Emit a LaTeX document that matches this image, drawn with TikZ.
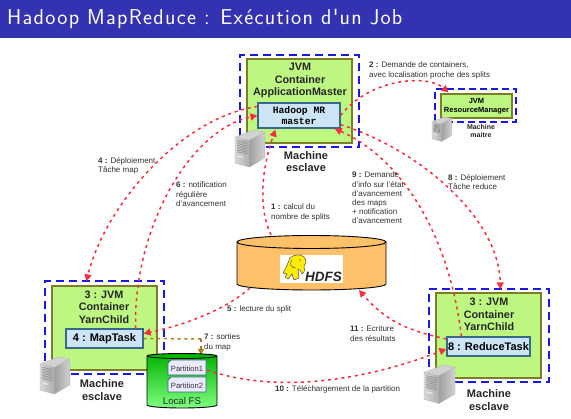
\documentclass[tikz,border=0pt]{standalone}
\usepackage{fontspec}
\setmainfont{Liberation Sans}
\setmonofont{Liberation Mono}
\newfontfamily\ttlfont[LetterSpace=6]{Latin Modern Sans}
\usetikzlibrary{arrows.meta,calc}
\definecolor{band}{RGB}{51,51,178}
\definecolor{frameb}{RGB}{25,25,225}
\definecolor{cgreen}{RGB}{190,246,130}
\definecolor{colive}{RGB}{125,125,35}
\definecolor{tblue}{RGB}{205,228,245}
\definecolor{tedge}{RGB}{55,105,140}
\definecolor{flow}{RGB}{245,45,65}
\definecolor{brownflow}{RGB}{170,125,30}
\definecolor{labelc}{RGB}{50,50,50}
\definecolor{hdfsc}{RGB}{255,192,106}
\newcommand{\fs}[2]{\fontsize{#1}{#2}\selectfont}
\newcommand{\srv}[3]{\begin{scope}[shift={(#1,#2)},scale=#3,line width=0.3pt,draw=gray!70]
 \fill[gray!35] (0,7)--(18,0)--(29,2)--(14,10)--cycle;
 \shade[left color=gray!75,right color=gray!35] (14,10)--(29,2)--(29,27)--(14,36)--cycle;
 \shade[left color=gray!30,right color=gray!65] (0,7)--(14,10)--(14,36)--(0,32)--cycle;
 \foreach \k in {0,1,2,3,4,5,6,7}{\draw[gray!85,line width=0.7pt] (2,10+\k*1.6)--(12,12+\k*1.6);}
 \fill[white!85!gray] (3,25)--(8,26)--(8,27)--(3,26)--cycle;
 \draw[gray!60] (0,7)--(18,0)--(29,2)--(29,27)--(14,36)--(0,32)--cycle (0,7)--(14,10)--(29,2) (14,10)--(14,36);
\end{scope}}
\tikzset{
 x=1pt,y=-1pt,
 frame/.style={draw=frameb,line width=1.3pt,dash pattern=on 8pt off 5pt,inner sep=0pt},
 gbox/.style={draw=colive,fill=cgreen,line width=1.2pt,inner sep=0pt},
 tbox/.style={draw=tedge,fill=tblue,line width=1.2pt,inner sep=0pt,font=\bfseries\fs{11}{12}},
 ctitle/.style={font=\bfseries\fs{10.8}{12.3},align=center,inner sep=0pt,text=black!85},
 mach/.style={font=\bfseries\fs{11}{12.2},align=center,inner sep=0pt,text=black!85},
 lab/.style={font=\fs{8}{9.2},align=left,anchor=north west,inner sep=0pt,text=labelc},
 flowline/.style={draw=flow,line width=1.5pt,dash pattern=on 3pt off 3.8pt,-{Triangle[length=7pt,width=7pt]}},
 brownline/.style={draw=brownflow,line width=1.5pt,dash pattern=on 3pt off 3.8pt},
 part/.style={draw=tedge,fill=blue!8,line width=0.8pt},
 partt/.style={font=\fs{7.6}{9},inner sep=0pt,text=black!80},
}
\begin{document}
\begin{tikzpicture}
\useasboundingbox (0,0) rectangle (571,419);
\fill[white] (0,0) rectangle (571,419);
\fill[band] (0,0) rectangle (571,38);
\node[anchor=base west,inner sep=0pt,text=white] (title) at (7,25)
 {\ttlfont\fs{21.5}{24}Hadoop MapReduce : Exécution d'un Job};

% HDFS cylinder
\filldraw[fill=hdfsc,draw=black,line width=0.9pt]
 (237,242) arc[x radius=74.5,y radius=6.5,start angle=180,end angle=360] -- (386,284) arc[x radius=74.5,y radius=6,start angle=0,end angle=180] -- cycle;
\draw[line width=0.9pt] (237,242) arc[x radius=74.5,y radius=6.5,start angle=180,end angle=0];
\fill[white] (280,255) rectangle (343,283);
\filldraw[fill=yellow!95!orange,draw=black!70,line width=0.5pt]
 (283,273) .. controls (286,268) and (288,263) .. (290,258)
 .. controls (294,254) and (301,254) .. (304,257)
 .. controls (307,260) and (306,264) .. (304,266)
 .. controls (305,269) and (305,272) .. (302,274)
 .. controls (301,271) and (300,269) .. (298,269)
 .. controls (298,272) and (299,275) .. (299,278)
 -- (294,280) -- (292,274) -- (288,279) -- (285,277) -- (287,274) -- cycle;
\draw[black!70,line width=0.5pt] (292,260) .. controls (289,264) and (291,268) .. (296,268);
\fill[black] (300,260) circle[radius=0.7];
\node[inner sep=0pt,font=\bfseries\itshape\fs{13.5}{15},text=black!85] (hdfs) at (323.5,276.5) {HDFS};

% Application master
\node[frame,minimum width=119pt,minimum height=92pt] (amf) at (299.5,101) {};
\node[gbox,minimum width=105pt,minimum height=84pt] (amg) at (299.5,101) {};
\node[ctitle] (amt) at (300,80.5) {JVM\\Container\\ApplicationMaster};
\node[tbox,minimum width=82pt,minimum height=25pt,font=\ttfamily\bfseries\fs{9.7}{11},align=center] (am) at (299,115.5) {Hadoop MR\\master};
\srv{235}{130}{1.03}
\node[mach] (ammach) at (306,161.5) {Machine\\esclave};

% Resource manager
\node[frame,minimum width=81pt,minimum height=33pt,line width=1.1pt,dash pattern=on 7pt off 4pt] (rmf) at (475.5,105.5) {};
\node[gbox,minimum width=71pt,minimum height=24pt,align=center,font=\bfseries\fs{7.5}{9}] (rm) at (476.5,106) {JVM\\ResourceManager};
\srv{432}{117}{0.68}
\node[mach,font=\bfseries\fs{7}{8.2}] (rmmach) at (481,131) {Machine\\maitre};

% Map
\node[frame,minimum width=119pt,minimum height=93pt] (mf) at (104.5,327.5) {};
\node[gbox,minimum width=105pt,minimum height=84pt] (mg) at (104.5,328) {};
\node[ctitle] (mt) at (104,307) {3 : JVM\\Container\\YarnChild};
\node[tbox,minimum width=77pt,minimum height=19pt] (map) at (104.5,338.5) {4 : MapTask};

% Reduce
\node[frame,minimum width=120pt,minimum height=93pt] (rf) at (489,335.5) {};
\node[gbox,minimum width=105pt,minimum height=85pt] (rg) at (488.5,335.5) {};
\node[ctitle] (rt) at (489,314.5) {3 : JVM\\Container\\YarnChild};
\node[tbox,minimum width=83pt,minimum height=19pt] (red) at (488.5,346.5) {8 : ReduceTask};
\srv{424}{365}{1.07}
\node[mach] (rmachn) at (489,400) {Machine\\esclave};

% connectors
\coordinate (hdfsT) at (271,235);
\coordinate (hdfsL) at (250,288);
\coordinate (hdfsR) at (359,290);
\draw[flowline] (hdfsT) .. controls (257,205) and (263,165) .. ([xshift=18pt,yshift=-1pt]am.south west);
\draw[flowline] (am.east) .. controls (370,78) and (428,74) .. ([xshift=14pt,yshift=-4pt]rmf.north west);
\draw[flowline] ([yshift=9pt]am.west) .. controls (180,118) and (105,206) .. ([xshift=42pt,yshift=-1pt]mf.north west);
\draw[flowline] ([xshift=-8pt]map.north east) .. controls (133,230) and (189,130) .. (am.west);
\draw[flowline] (hdfsL) .. controls (225,310) and (185,325) .. ([yshift=5pt]map.east);
\coordinate (bend7) at (201,339);
\coordinate (lfsT) at (201,355);
\draw[brownline] (map.east) -- (bend7);
\draw[brownline,-{Triangle[length=6pt,width=6pt]}] (bend7) -- (lfsT);
\draw[flowline] ([xshift=15pt]red.north west) .. controls (450,240) and (405,160) .. ([xshift=-6pt]am.south east);
\draw[flowline] ([yshift=4pt]am.south east) .. controls (420,150) and (499,218) .. ([xshift=72pt,yshift=-1pt]rf.north west);
\draw[flowline] ([yshift=7.5pt]red.west) .. controls (405,330) and (385,320) .. (hdfsR);

% Local FS
\shade[top color=green!70!black,bottom color=green!50!white,draw=black,line width=0.9pt]
 (147,356) arc[x radius=35,y radius=2.5,start angle=180,end angle=360] -- (217,405) arc[x radius=35,y radius=3,start angle=0,end angle=180] -- cycle;
\draw[line width=0.8pt,black] (147,356) arc[x radius=35,y radius=2.5,start angle=180,end angle=0];
\filldraw[part] (171,360) -- (206,360) -- (206,375) -- (168,375) -- (168,363) -- cycle;
\filldraw[part] (171,377) -- (206,377) -- (206,392) -- (168,392) -- (168,380) -- cycle;
\node[partt] (p1) at (187,369) {Partition1};
\node[partt] (p2) at (187,386) {Partition2};
\node[inner sep=0pt,font=\fs{9.7}{10},text=black!85] (lfs) at (182,401.5) {Local FS};
\coordinate (p1e) at (207,370);
\draw[flowline] (p1e) .. controls (280,395) and (369,379) .. ([yshift=-2.5pt]red.west);

% servers above map
\srv{40}{357}{1.03}
\node[mach] (mmach) at (102,390) {Machine\\esclave};

% labels
\node[lab] (l2) at (369,62) {\textbf{2 :} Demande de containers,\\avec localisation proche des splits};
\node[lab] (l4) at (98,157) {\textbf{4 :} Déploiement\\Tâche map};
\node[lab] (l6) at (176,182) {\textbf{6 :} notification\\régulière\\d'avancement};
\node[lab] (l1) at (271,204) {\textbf{1 :} calcul du\\nombre de splits};
\node[lab] (l9) at (352,172) {\textbf{9 :} Demande\\d'info sur l'état\\d'avancement\\des maps\\+ notification\\d'avancement};
\node[lab] (l8) at (448,174) {\textbf{8 :} Déploiement\\Tâche reduce};
\node[lab] (l5) at (227,306) {\textbf{5 :} lecture du split};
\node[lab] (l7) at (204,334) {\textbf{7 :} sorties\\du map};
\node[lab] (l11) at (350,326) {\textbf{11 :} Ecriture\\des résultats};
\node[lab] (l10) at (275,385) {\textbf{10 :} Téléchargement de la partition};
\end{tikzpicture}
\end{document}
